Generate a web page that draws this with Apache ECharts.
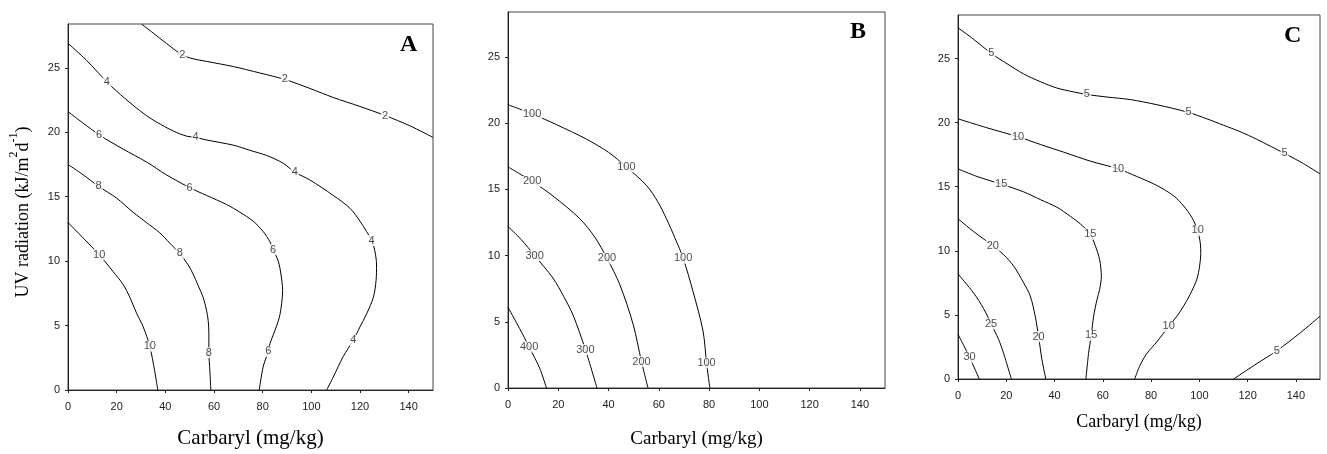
<!DOCTYPE html>
<html>
<head>
<meta charset="utf-8">
<script src="https://cdn.jsdelivr.net/npm/echarts@6/dist/echarts.min.js"></script>
<style>
html,body{margin:0;padding:0;background:#fff;}
#c{width:1327px;height:454px;}
</style>
</head>
<body>
<div id="c"></div>
<script>
// ---------- Data: contour lines [carbaryl, UV] ----------
// Panel A
const a2  = [[30.2,28.4],[35,27.7],[40.4,26.9],[47,26.0],[51.4,25.7],[56.9,25.5],[67.9,25.1],[78.8,24.6],[89.1,24.1],[99.4,23.4],[109,22.7],[120,22.0],[130.3,21.3],[140.5,20.5],[150,19.6]];
const a4  = [[0,26.9],[7.5,25.6],[16,23.9],[19.9,23.2],[26.7,22.1],[32.2,21.3],[36.3,20.8],[43.2,20.1],[48.7,19.7],[52.4,19.6],[56.9,19.4],[67.9,19.0],[74.7,18.6],[81.6,18.2],[88.4,17.6],[93.2,16.9],[99.4,16.3],[109,15.1],[115.9,14.1],[120,13.1],[122.7,12.3],[124.8,11.6],[126.1,10.8],[126.8,9.7],[126.6,8.5],[125.5,7.2],[122.7,5.9],[120,4.9],[117.2,3.85],[113.1,2.6],[109,1.0],[106.3,0]];
const a6  = [[0,21.6],[12.8,19.8],[22.6,18.7],[32.2,17.7],[40.4,16.7],[50,15.7],[56.9,15.1],[65.1,14.4],[70.6,13.8],[76.1,13.1],[80.2,12.3],[83,11.5],[84.3,10.9],[86.4,10.0],[87.5,9.0],[88.2,7.7],[87.8,6.7],[86.8,5.6],[85,4.6],[83,3.6],[82.3,3.0],[80.2,1.8],[78.6,0]];
const a8  = [[0,17.5],[6.2,16.7],[12.6,15.8],[19.9,14.9],[26.7,13.8],[32.2,13.0],[37.7,12.2],[41.8,11.4],[45.9,10.6],[49.4,9.7],[51.4,9.0],[53.5,8.1],[55.5,7.2],[56.9,6.2],[57.6,5.4],[57.9,4.4],[57.9,2.9],[58.3,1.5],[58.7,0]];
const a10 = [[0,13.0],[6.2,11.8],[12.8,10.5],[18.5,9.2],[22.6,8.2],[25.4,7.2],[28.1,6.0],[30.9,4.9],[33.6,3.4],[35.6,1.5],[36.9,0]];
const aLabels = [[47,26.0,'2'],[89.1,24.1,'2'],[130.3,21.3,'2'],
  [16,23.9,'4'],[52.4,19.6,'4'],[93.2,16.9,'4'],[124.8,11.6,'4'],[117.2,3.85,'4'],
  [12.8,19.8,'6'],[50,15.7,'6'],[84.3,10.9,'6'],[82.3,3.0,'6'],
  [12.6,15.8,'8'],[45.9,10.6,'8'],[57.9,2.9,'8'],
  [12.8,10.5,'10'],[33.6,3.4,'10']];
// Panel B
const b100 = [[0,21.4],[9.6,20.7],[19.2,19.9],[31.2,18.8],[40,17.8],[47.1,16.7],[55.1,15.3],[59.5,14.1],[63,12.8],[66.5,11.3],[69.7,9.8],[73.6,7.3],[77.6,4.3],[79,1.9],[80.3,0]];
const b200 = [[0,16.7],[9.6,15.6],[17.9,14.5],[28.5,12.8],[34.5,11.4],[39.4,9.8],[44.5,7.8],[49.8,4.8],[53.1,2.0],[55.7,0]];
const b300 = [[0,12.2],[5.3,11.2],[10.6,10.0],[17.9,8.3],[22.2,6.9],[25.9,5.5],[30.8,2.9],[35.4,0]];
const b400 = [[0,6.1],[4.6,4.5],[8.4,3.1],[12.6,1.5],[15.3,0]];
const bLabels = [[9.6,20.7,'100'],[47.1,16.7,'100'],[69.7,9.8,'100'],[79,1.9,'100'],
  [9.6,15.6,'200'],[39.4,9.8,'200'],[53.1,2.0,'200'],
  [10.6,10.0,'300'],[30.8,2.9,'300'],
  [8.4,3.1,'400']];
// Panel C
const c5a = [[0,27.4],[6.5,26.5],[13.8,25.4],[20.3,24.6],[27.2,23.8],[34.1,23.2],[41,22.7],[47.9,22.4],[53.4,22.2],[61.7,22.0],[71.4,21.8],[82.4,21.4],[95.5,20.8],[103.1,20.3],[110,19.8],[116.9,19.3],[123.8,18.7],[135.3,17.6],[143.2,16.8],[150,16.0]];
const c5b = [[114.2,0],[123,1.1],[132.1,2.2],[141.8,3.6],[150,4.9]];
const c10 = [[0,20.3],[12,19.6],[24.9,18.9],[34.1,18.3],[43.8,17.7],[54.8,17.0],[66.3,16.4],[74.1,15.8],[82.4,15.1],[89.3,14.3],[93.5,13.5],[96.9,12.6],[99.3,11.6],[100.4,10.6],[100.6,9.8],[100.1,8.8],[99,7.8],[96.2,6.6],[93.5,5.7],[90.7,4.9],[87.3,4.1],[82.4,2.9],[78.3,2.0],[75.5,1.1],[73.2,0]];
const c15 = [[0,16.4],[7.9,15.8],[17.9,15.2],[27.2,14.6],[34.1,14.0],[41,13.4],[46.5,12.7],[50.7,12.1],[54.8,11.3],[56.9,10.4],[58.7,9.3],[59.4,8.0],[58.7,7.0],[57.6,6.2],[56.2,4.9],[55.2,3.4],[54.1,2.0],[53,0]];
const c20 = [[0,12.5],[6.5,11.5],[14.4,10.4],[18.9,9.7],[23.1,8.8],[27.2,7.5],[29.9,6.5],[32,4.9],[33.4,3.3],[34.8,1.5],[36.4,0]];
const c25 = [[0,8.2],[6.5,6.7],[10.6,5.5],[13.7,4.3],[16.8,3.1],[18.9,2.0],[22.1,0]];
const c30 = [[0,3.5],[2.4,2.6],[4.8,1.7],[8.8,0]];
const cLabels = [[13.8,25.4,'5'],[53.4,22.2,'5'],[95.5,20.8,'5'],[135.3,17.6,'5'],[132.1,2.2,'5'],
  [24.9,18.9,'10'],[66.3,16.4,'10'],[99.3,11.6,'10'],[87.3,4.1,'10'],
  [17.9,15.2,'15'],[54.8,11.3,'15'],[55.2,3.4,'15'],
  [14.4,10.4,'20'],[33.4,3.3,'20'],
  [13.7,4.3,'25'],
  [4.8,1.7,'30']];
const xTitle = 'Carbaryl (mg/kg)';
const panelNames = ['A','B','C'];

// ---------- Chart ----------
const grids = [
  {left:68, top:24, width:365, height:369},
  {left:508, top:12, width:377, height:378},
  {left:958, top:15, width:362, height:364}
];
const xNameGap = [38, 42, 34];
const xNameSize = [21, 19, 18];

const xAxes = grids.map((g,i)=>({
  gridIndex:i, type:'value', min:0, max:150, interval:20,
  name:xTitle, nameLocation:'middle', nameGap:xNameGap[i],
  nameTextStyle:{fontFamily:'Liberation Serif', fontSize:xNameSize[i], color:'#000'},
  axisLine:{show:true, onZero:false, lineStyle:{color:'#222', width:1}},
  axisTick:{show:true, length:3, inside:false, lineStyle:{color:'#222'}},
  axisLabel:{fontFamily:'Liberation Sans', fontSize:11, color:'#222', margin:11, showMaxLabel:false},
  splitLine:{show:false}
}));
const yAxes = grids.map((g,i)=>({
  gridIndex:i, type:'value', min:0, max:28.4, interval:5,
  axisLine:{show:true, onZero:false, lineStyle:{color:'#222', width:1}},
  axisTick:{show:true, length:3, inside:false, lineStyle:{color:'#222'}},
  axisLabel:{fontFamily:'Liberation Sans', fontSize:11, color:'#222', margin:8, showMaxLabel:false,
    formatter:v=> (Math.abs(v % 5) < 1e-6 ? String(v) : '')},
  splitLine:{show:false}
}));
yAxes[0].name = '{t|UV radiation (kJ/m}{s|2}{t|d}{s|-1}{t|)}';
yAxes[0].nameLocation = 'middle';
yAxes[0].nameGap = 36;
yAxes[0].nameTextStyle = {
  padding:[0,10,0,0],
  rich:{
    t:{fontFamily:'Liberation Serif', fontSize:18, color:'#000', verticalAlign:'bottom', lineHeight:24},
    s:{fontFamily:'Liberation Serif', fontSize:12, color:'#000', verticalAlign:'top', lineHeight:24, padding:[0,0,10,0]}
  }
};

const lineSeries = (data, i) => ({
  type:'line', xAxisIndex:i, yAxisIndex:i, data:data, smooth:0.3,
  symbol:'none', lineStyle:{color:'#000', width:1}, silent:true, z:2, clip:true
});
const labelSeries = (data, i) => ({
  type:'scatter', xAxisIndex:i, yAxisIndex:i, symbolSize:1, itemStyle:{color:'rgba(0,0,0,0)'},
  data:data.map(d=>({value:[d[0],d[1]], name:d[2]})), z:5, silent:true,
  label:{show:true, position:'inside', formatter:p=>p.name, fontFamily:'Liberation Sans', fontSize:11,
    color:'#222', backgroundColor:'#fff', padding:[0,1]}
});

const series = [];
[a2,a4,a6,a8,a10].forEach(d=>series.push(lineSeries(d,0)));
series.push(labelSeries(aLabels,0));
[b100,b200,b300,b400].forEach(d=>series.push(lineSeries(d,1)));
series.push(labelSeries(bLabels,1));
[c5a,c5b,c10,c15,c20,c25,c30].forEach(d=>series.push(lineSeries(d,2)));
series.push(labelSeries(cLabels,2));

const letterPos = [[408,46],[858,33],[1292,37]];
const graphics = panelNames.map((n,i)=>({
  type:'text', left:letterPos[i][0]-8, top:letterPos[i][1]-13,
  style:{text:n, fontFamily:'Liberation Serif', fontWeight:'bold', fontSize:24, fill:'#000'}
}));

const chart = echarts.init(document.getElementById('c'), null, {renderer:'canvas'});
chart.setOption({
  animation:false,
  backgroundColor:'#fff',
  grid: grids.map(g=>Object.assign({show:true, borderColor:'#444', borderWidth:1, backgroundColor:'transparent'}, g)),
  xAxis:xAxes, yAxis:yAxes, series:series, graphic:graphics
});
</script>
</body>
</html>
